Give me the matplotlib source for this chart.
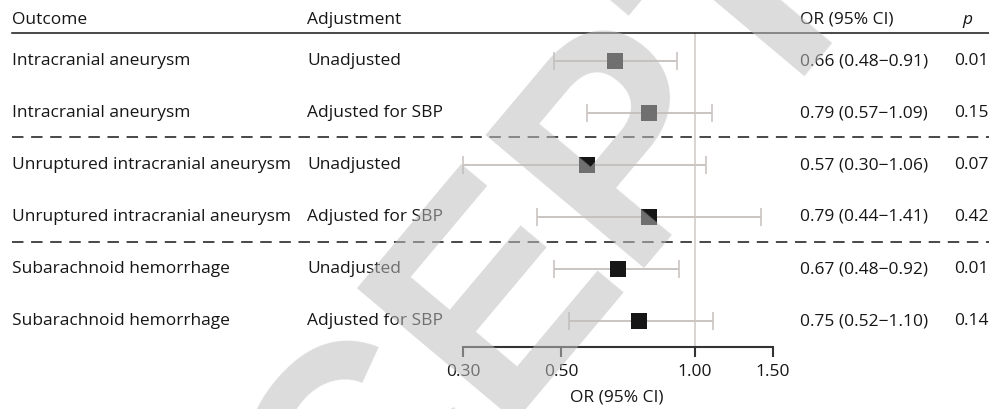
import numpy as np
import matplotlib
matplotlib.use("Agg")
import matplotlib.pyplot as plt
from matplotlib.lines import Line2D
from matplotlib.ticker import NullLocator

outcomes = ["Intracranial aneurysm", "Intracranial aneurysm",
            "Unruptured intracranial aneurysm", "Unruptured intracranial aneurysm",
            "Subarachnoid hemorrhage", "Subarachnoid hemorrhage"]
adjustments = ["Unadjusted", "Adjusted for SBP"] * 3
odds = [0.66, 0.79, 0.57, 0.79, 0.67, 0.75]
ci_low = [0.48, 0.57, 0.30, 0.44, 0.48, 0.52]
ci_high = [0.91, 1.09, 1.06, 1.41, 0.92, 1.10]
p_values = [0.01, 0.15, 0.07, 0.42, 0.01, 0.14]
x_ticks = [0.30, 0.50, 1.00, 1.50]

plt.rcParams['font.family'] = ['Open Sans', 'DejaVu Sans']
W, H = 989, 409
FS = 12.5
TXT = '#161616'
CI_COL = '#cbc5c1'

def fx(px):
    return px / W

def fy(py):
    return 1 - py / H

fig = plt.figure(figsize=(W / 100, H / 100), dpi=100)
ax_top, ax_bot = 33, 347
ax = fig.add_axes([fx(463), fy(ax_bot), fx(773) - fx(463), fy(ax_top) - fy(ax_bot)])
ax.set_xscale('log')
ax.set_xlim(0.30, 1.50)
# row i sits at pixel 61 + 52 * i
ax.set_ylim((ax_bot - 61) / 52, (ax_top - 61) / 52)

rows = np.arange(len(odds))
odds_a = np.array(odds)
err = [odds_a - np.array(ci_low), np.array(ci_high) - odds_a]
ax.axvline(1.0, color='#d2cdc9', lw=1.2, zorder=1)
ax.errorbar(odds_a, rows, xerr=err, fmt='none', ecolor=CI_COL,
            elinewidth=1.4, capsize=6.5, capthick=1.2, zorder=2, clip_on=False)
ax.scatter(odds_a, rows, marker='s', s=132, color=TXT, zorder=3, clip_on=False,
           linewidths=0)

for s in ['top', 'left', 'right']:
    ax.spines[s].set_visible(False)
ax.spines['bottom'].set_bounds(0.30, 1.50)
ax.spines['bottom'].set_color('#333333')
ax.spines['bottom'].set_linewidth(1.5)
ax.set_xticks(x_ticks)
ax.set_xticklabels([f"{t:.2f}" for t in x_ticks])
ax.xaxis.set_minor_locator(NullLocator())
ax.set_yticks([])
ax.tick_params(axis='x', direction='out', length=7.5, width=1.5, color='#333333',
               labelsize=FS, labelcolor=TXT, pad=5)
ax.patch.set_visible(False)

fig.text(fx(617), fy(397), "OR (95% CI)", ha='center', va='center', fontsize=FS, color=TXT)

# header
hy = 19.5
fig.text(fx(12), fy(hy), "Outcome", ha='left', va='center', fontsize=FS, color=TXT)
fig.text(fx(307), fy(hy), "Adjustment", ha='left', va='center', fontsize=FS, color=TXT)
fig.text(fx(800), fy(hy), "OR (95% CI)", ha='left', va='center', fontsize=FS, color=TXT)
fig.text(fx(967), fy(hy), "p", ha='center', va='center', fontsize=FS, color=TXT, style='italic')

fig.add_artist(Line2D([fx(12), 1], [fy(33), fy(33)], color=TXT, lw=1.1))
for y in [137, 242]:
    fig.add_artist(Line2D([fx(12), 1], [fy(y), fy(y)], color=TXT, lw=1.1,
                          linestyle=(0, (7.5, 5.0))))

for i in range(len(odds)):
    y = 61 + 52 * i
    fig.text(fx(12), fy(y), outcomes[i], ha='left', va='center', fontsize=FS, color=TXT)
    fig.text(fx(307), fy(y), adjustments[i], ha='left', va='center', fontsize=FS, color=TXT)
    fig.text(fx(800), fy(y), f"{odds[i]:.2f} ({ci_low[i]:.2f}\u2212{ci_high[i]:.2f})",
             ha='left', va='center', fontsize=FS, color=TXT)
    fig.text(fx(954), fy(y), f"{p_values[i]:.2f}", ha='left', va='center',
             fontsize=FS, color=TXT)

# watermark
fig.text(fx(83), fy(928), "ACCEPTED", rotation=50, fontsize=216, fontweight='bold',
         color='#bebebe', alpha=0.54, ha='left', va='baseline', rotation_mode='anchor',
         family='Liberation Sans', zorder=10)

fig.savefig('out.png', dpi=100)
